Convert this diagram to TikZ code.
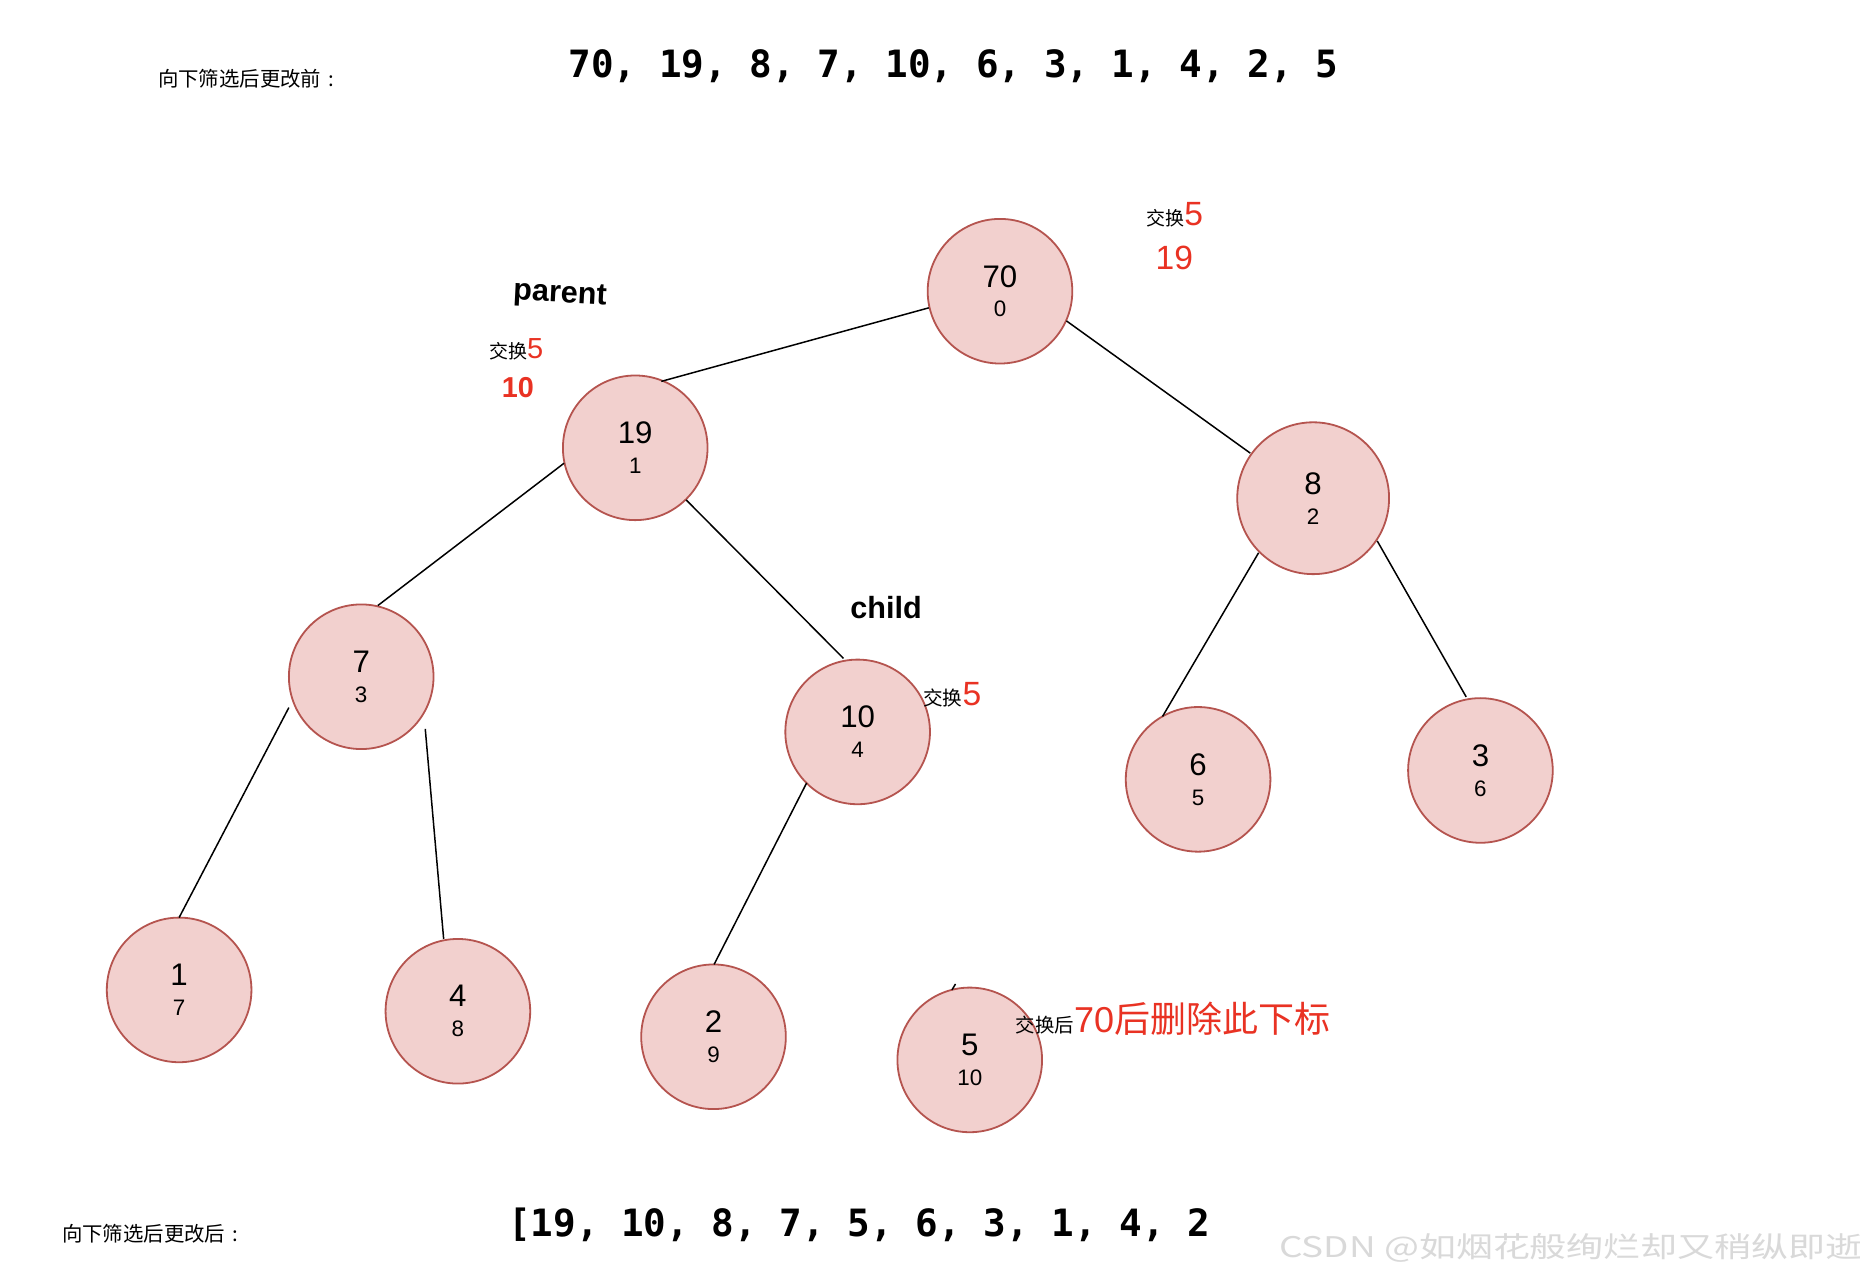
\documentclass[tikz,border=0pt]{standalone}
\usepackage{fontspec}
\setmainfont{Liberation Sans}
\newfontfamily\cjk{Noto Sans CJK SC}
\newfontfamily\monob{DejaVu Sans Mono}
\usetikzlibrary{calc}
\definecolor{nfill}{HTML}{F2D0CE}
\definecolor{nline}{HTML}{B5544F}
\definecolor{hred}{RGB}{233,50,35}
\definecolor{wm}{gray}{0.85}
\newcommand{\myfs}[2]{\fontsize{#1}{#2}\selectfont}
\begin{document}
\begin{tikzpicture}[x=0.593pt,y=-0.593pt,
  hnode/.style={circle,draw=nline,fill=nfill,line width=0.9pt,minimum size=72.3pt,inner sep=0pt,align=center,font=\myfs{15.6}{14.9}},
  edge/.style={line width=0.75pt,black},
  txt/.style={anchor=base west,inner sep=0pt}]
\useasboundingbox[fill=white] (0,0) rectangle (1568,1081);

% heap nodes
\node[hnode] (n70) at (843,245.5) {70\\{\myfs{11.2}{14.9}0}};
\node[hnode] (n19) at (535.5,377.5) {19\\{\myfs{11.2}{14.9}1}};
\node[hnode,minimum size=75.9pt] (n8) at (1107,420) {8\\{\myfs{11.2}{14.9}2}};
\node[hnode] (n7) at (304.5,570.5) {7\\{\myfs{11.2}{14.9}3}};
\node[hnode] (n10) at (723,617) {10\\{\myfs{11.2}{14.9}4}};
\node[hnode] (n6) at (1010,657) {6\\{\myfs{11.2}{14.9}5}};
\node[hnode] (n3) at (1248,649.5) {3\\{\myfs{11.2}{14.9}6}};
\node[hnode] (n1) at (151,834.5) {1\\{\myfs{11.2}{14.9}7}};
\node[hnode] (n4) at (386,852.5) {4\\{\myfs{11.2}{14.9}8}};
\node[hnode] (n2) at (601.5,874) {2\\{\myfs{11.2}{14.9}9}};
\node[hnode] (n5) at (817.5,893.5) {5\\{\myfs{11.2}{14.9}10}};

% connectors
\draw[edge] ($(n70)+(-60,14)$) -- ($(n19)+(22,-56)$);
\draw[edge] ($(n70)+(56,25)$) -- ($(n8)+(-53,-38)$);
\draw[edge] ($(n19)+(-60,13)$) -- ($(n7)+(14,-60)$);
\draw[edge] ($(n19)+(43,44)$) -- ($(n10)+(-12,-62)$);
\draw[edge] ($(n8)+(-46,46)$) -- ($(n6)+(-30,-53)$);
\draw[edge] ($(n8)+(54,36)$) -- ($(n3)+(-12,-62)$);
\draw[edge] ($(n7)+(-61,26)$) -- ($(n1)+(0,-61)$);
\draw[edge] ($(n7)+(54,44)$) -- ($(n4)+(-12,-61)$);
\draw[edge] ($(n10)+(-43,43)$) -- ($(n2)+(0.5,-61)$);
\coordinate (stubend) at (805.5,829.5);
\draw[edge] ($(n5)+(-15,-59)$) -- (stubend);

% arrays and captions
\node[txt] (lblbefore) at (133,72.5) {\cjk\myfs{10.2}{12}向下筛选后更改前\hspace{0.35em}:};
\node[txt] (arrbefore) at (479,65.2) {\monob\bfseries\myfs{18.8}{20}70, 19, 8, 7, 10, 6, 3, 1, 4, 2, 5};
\node[txt] (lblafter) at (52,1046.5) {\cjk\myfs{10.2}{12}向下筛选后更改后\hspace{0.35em}:};
\node[txt] (arrafter) at (428,1042.7) {\monob\bfseries\myfs{18.8}{20}[19, 10, 8, 7, 5, 6, 3, 1, 4, 2};

% annotations
\node[rotate=-3,font=\bfseries\myfs{15.3}{16}] (parentlbl) at (472,249) {parent};
\node[font=\bfseries\myfs{15.3}{16}] (childlbl) at (747,512) {child};

\node[txt] (swapA) at (966,190.3) {\cjk\myfs{9.5}{10}交换{\color{hred}\rmfamily\myfs{16.8}{17}5}};
\node[anchor=base,inner sep=0pt,text=hred,font=\myfs{16.8}{17}] (nineteen) at (990,227) {19};

\node[txt] (swapB) at (412,302) {\cjk\myfs{9.5}{10}交换{\color{hred}\rmfamily\myfs{14.5}{14}5}};
\node[anchor=base,inner sep=0pt,text=hred,font=\bfseries\myfs{14.4}{15}] (tenlbl) at (436.5,335) {10};

\node[txt] (swapC) at (778,594.4) {\cjk\myfs{9.8}{10}交换{\color{hred}\rmfamily\myfs{16.8}{17}5}};

\node[txt] (swapD) at (856,870) {\cjk\myfs{9.7}{10}交换后{\color{hred}\rmfamily\myfs{18}{18}70\cjk 后删除此下标}};

% watermark
\node[txt,text=wm,xscale=1.3] (wmark) at (1078,1060) {\cjk\myfs{14.2}{15}CSDN @如烟花般绚烂却又稍纵即逝};
\end{tikzpicture}
\end{document}
